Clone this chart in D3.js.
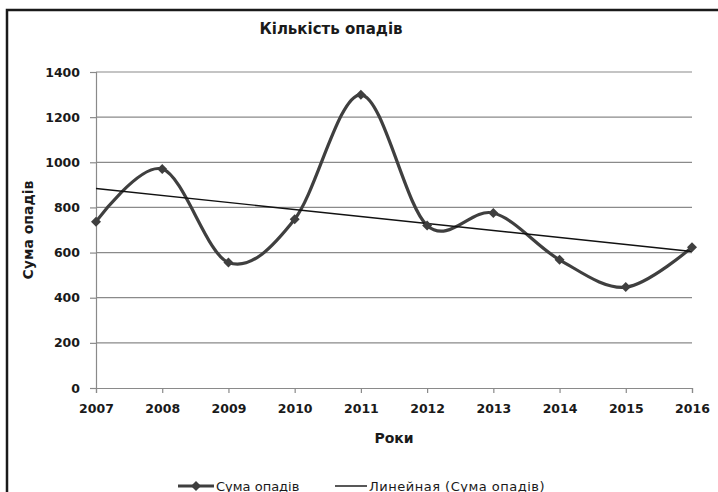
<!DOCTYPE html>
<html>
<head>
<meta charset="utf-8">
<script src="https://cdn.jsdelivr.net/npm/d3@7"></script>
<style>
  body { margin: 0; background: #fff; }
  text { font-family: "DejaVu Sans", sans-serif; fill: #1a1a1a; }
</style>
</head>
<body>
<div id="chart"></div>
<script>
// data
var years = [2007, 2008, 2009, 2010, 2011, 2012, 2013, 2014, 2015, 2016];
var rainfall = [737, 970, 556, 748, 1299, 720, 775, 568, 447, 624];
var yTicks = [0, 200, 400, 600, 800, 1000, 1200, 1400];

var W = 718, H = 492;
var margin = {top: 72, right: 26, bottom: 104, left: 96},
    width = W - margin.left - margin.right,
    height = H - margin.top - margin.bottom;

var svg = d3.select("#chart")
  .append("svg")
    .attr("width", W)
    .attr("height", H);

// outer chart border, cut off at right and bottom like the screenshot
svg.append("rect")
  .attr("x", 7).attr("y", 10)
  .attr("width", W + 10).attr("height", H + 10)
  .attr("fill", "none")
  .attr("stroke", "#1a1a1a")
  .attr("stroke-width", 2.5);

var g = svg.append("g")
  .attr("transform", "translate(" + margin.left + "," + margin.top + ")");

var x = d3.scalePoint()
  .domain(years)
  .range([0, width]);

var y = d3.scaleLinear()
  .domain([0, 1400])
  .range([height, 0]);

// gridlines
g.append("g")
  .selectAll("line")
  .data(yTicks.filter(function(d) { return d > 0; }))
  .enter()
  .append("line")
    .attr("x1", 0).attr("x2", width)
    .attr("y1", function(d) { return y(d); })
    .attr("y2", function(d) { return y(d); })
    .attr("stroke", "#8a8a8a")
    .attr("stroke-width", 1.2);

// Y axis
var yAxis = g.append("g")
  .call(d3.axisLeft(y).tickValues(yTicks).tickSize(6).tickPadding(10).tickFormat(d3.format("d")));
yAxis.select(".domain").attr("stroke", "#8a8a8a").attr("stroke-width", 1.2);
yAxis.selectAll(".tick line").attr("stroke", "#8a8a8a").attr("stroke-width", 1.2);
yAxis.selectAll("text")
  .style("font-size", "12.5px")
  .style("font-weight", "bold")
  .attr("fill", "#222");

// X axis
var xAxis = g.append("g")
  .attr("transform", "translate(0," + height + ")")
  .call(d3.axisBottom(x).tickSize(5).tickPadding(11).tickFormat(d3.format("d")));
xAxis.select(".domain").attr("stroke", "#8a8a8a").attr("stroke-width", 1.2);
xAxis.selectAll(".tick line").attr("stroke", "#8a8a8a").attr("stroke-width", 1.2);
xAxis.selectAll("text")
  .style("font-size", "12.5px")
  .style("font-weight", "bold")
  .attr("fill", "#222");

// linear trend (least squares over the series)
var n = rainfall.length;
var mx = d3.mean(rainfall, function(d, i) { return i; });
var my = d3.mean(rainfall);
var slope = d3.sum(rainfall, function(d, i) { return (i - mx) * (d - my); }) /
            d3.sum(rainfall, function(d, i) { return (i - mx) * (i - mx); });
var trend = [0, n - 1].map(function(i) { return {year: years[i], v: my + slope * (i - mx)}; });

// smoothed line
var line = d3.line()
  .x(function(d, i) { return x(years[i]); })
  .y(function(d) { return y(d); })
  .curve(d3.curveCatmullRom.alpha(0));

g.append("path")
  .datum(rainfall)
  .attr("d", line)
  .attr("fill", "none")
  .attr("stroke", "#3f3f3f")
  .attr("stroke-width", 3.2);

g.append("line")
  .attr("x1", x(trend[0].year)).attr("y1", y(trend[0].v))
  .attr("x2", x(trend[1].year)).attr("y2", y(trend[1].v))
  .attr("stroke", "#111")
  .attr("stroke-width", 1.4);

// diamond markers (square turned 45 degrees)
var diamond = d3.symbol().type(d3.symbolSquare).size(50);
g.append("g")
  .selectAll("path")
  .data(rainfall)
  .enter()
  .append("path")
    .attr("d", diamond)
    .attr("transform", function(d, i) { return "translate(" + x(years[i]) + "," + y(d) + ")rotate(45)"; })
    .attr("fill", "#3f3f3f");

// titles
svg.append("text")
  .attr("x", 331).attr("y", 34)
  .attr("text-anchor", "middle")
  .style("font-size", "15px")
  .style("font-weight", "bold")
  .text("Кількість опадів");

svg.append("text")
  .attr("x", margin.left + width / 2).attr("y", 443)
  .attr("text-anchor", "middle")
  .style("font-size", "14px")
  .style("font-weight", "bold")
  .text("Роки");

svg.append("text")
  .attr("transform", "translate(33," + (margin.top + height / 2) + ")rotate(-90)")
  .attr("text-anchor", "middle")
  .style("font-size", "14px")
  .style("font-weight", "bold")
  .text("Сума опадів");

// legend
var leg = svg.append("g").attr("transform", "translate(0,486)");
leg.append("line")
  .attr("x1", 178).attr("x2", 214).attr("y1", 0).attr("y2", 0)
  .attr("stroke", "#3f3f3f").attr("stroke-width", 3.2);
leg.append("path")
  .attr("d", diamond)
  .attr("transform", "translate(196,0)rotate(45)")
  .attr("fill", "#3f3f3f");
leg.append("text")
  .attr("x", 216).attr("y", 4.5)
  .style("font-size", "13px")
  .text("Сума опадів");
leg.append("line")
  .attr("x1", 335).attr("x2", 367).attr("y1", 0).attr("y2", 0)
  .attr("stroke", "#111").attr("stroke-width", 1.4);
leg.append("text")
  .attr("x", 369).attr("y", 4.5)
  .style("font-size", "13px")
  .style("letter-spacing", "0.5px")
  .text("Линейная (Сума опадів)");
</script>
</body>
</html>
